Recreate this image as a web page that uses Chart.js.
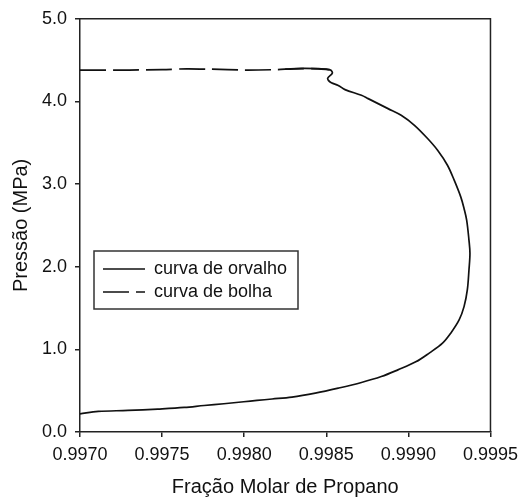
<!DOCTYPE html>
<html>
<head>
<meta charset="utf-8">
<script src="https://cdn.jsdelivr.net/npm/chart.js@4/dist/chart.umd.min.js"></script>
<style>
  html, body { margin: 0; padding: 0; background: #fff; }
  #wrap { width: 525px; height: 499px; }
</style>
</head>
<body>
<div id="wrap"><canvas id="envelope" width="525" height="499"></canvas></div>
<script>
// curva de orvalho: fração molar (x) e pressão em MPa (y)
const dewX = [0.997000, 0.997111, 0.997292, 0.997473, 0.997635, 0.997756, 0.997876, 0.997997,
  0.998078, 0.998170, 0.998291, 0.998433, 0.998573, 0.998714, 0.998835, 0.998936, 0.999045,
  0.999129, 0.999208, 0.999258, 0.999309, 0.999339, 0.999359, 0.999369, 0.999375, 0.999369,
  0.999355, 0.999339, 0.999319, 0.999279, 0.999238, 0.999178, 0.999117, 0.999037, 0.998956,
  0.998876, 0.998755, 0.998714, 0.998614, 0.998573, 0.998531, 0.998513, 0.998509, 0.998537,
  0.998523, 0.998452, 0.998350, 0.998250];
const dewP = [0.22, 0.249, 0.261, 0.278, 0.297, 0.321, 0.342, 0.366,
  0.382, 0.399, 0.423, 0.471, 0.531, 0.599, 0.671, 0.752, 0.849,
  0.958, 1.075, 1.196, 1.356, 1.517, 1.719, 1.961, 2.162, 2.322,
  2.564, 2.705, 2.845, 3.047, 3.228, 3.409, 3.551, 3.711, 3.832,
  3.913, 4.034, 4.074, 4.143, 4.194, 4.225, 4.255, 4.283, 4.343,
  4.382, 4.396, 4.40, 4.392];

// curva de bolha
const bubbleX = [0.99700, 0.99730, 0.99750, 0.99765, 0.99780, 0.99800, 0.99820, 0.99830,
  0.99845, 0.99852];
const bubbleP = [4.38, 4.38, 4.385, 4.395, 4.39, 4.38, 4.385, 4.395, 4.395, 4.384];

const xTicks = [0.9970, 0.9975, 0.9980, 0.9985, 0.9990, 0.9995];
const yTicks = [0.0, 1.0, 2.0, 3.0, 4.0, 5.0];

const seriesNames = ['curva de orvalho', 'curva de bolha'];

function toPoints(xs, ys) {
  return xs.map((x, i) => ({ x: x, y: ys[i] }));
}

const axisColor = '#222';
const tickFont = { family: 'Liberation Sans, Arial, sans-serif', size: 18 };
const titleFont = { family: 'Liberation Sans, Arial, sans-serif', size: 20 };

// frame on top/right and the legend box inside the plot
const framePlugin = {
  id: 'framePlugin',
  afterDraw(chart) {
    const ctx = chart.ctx;
    const a = chart.chartArea;
    ctx.save();
    ctx.strokeStyle = axisColor;
    ctx.lineWidth = 1.5;
    ctx.beginPath();
    ctx.moveTo(a.left, a.top);
    ctx.lineTo(a.right, a.top);
    ctx.lineTo(a.right, a.bottom);
    ctx.stroke();

    // legend
    const bx = 94, by = 251, bw = 204, bh = 58;
    ctx.fillStyle = '#fff';
    ctx.fillRect(bx, by, bw, bh);
    ctx.lineWidth = 1.5;
    ctx.strokeStyle = '#333';
    ctx.strokeRect(bx, by, bw, bh);
    ctx.font = '18px "Liberation Sans", Arial, sans-serif';
    ctx.textBaseline = 'middle';
    ctx.fillStyle = '#111';
    chart.data.datasets.forEach((ds, i) => {
      const yy = by + 18 + i * 23;
      ctx.strokeStyle = ds.borderColor;
      ctx.lineWidth = ds.borderWidth;
      ctx.setLineDash(ds.borderDash || []);
      ctx.beginPath();
      ctx.moveTo(bx + 9, yy);
      ctx.lineTo(bx + 51, yy);
      ctx.stroke();
      ctx.setLineDash([]);
      ctx.fillText(ds.label, bx + 60, yy);
    });
    ctx.restore();
  }
};

new Chart(document.getElementById('envelope').getContext('2d'), {
  type: 'scatter',
  data: {
    datasets: [
      {
        label: seriesNames[0],
        data: toPoints(dewX, dewP),
        showLine: true,
        borderColor: '#111',
        borderWidth: 1.7,
        pointRadius: 0,
        tension: 0.35
      },
      {
        label: seriesNames[1],
        data: toPoints(bubbleX, bubbleP),
        showLine: true,
        borderColor: '#111',
        borderWidth: 1.7,
        borderDash: [26, 7],
        pointRadius: 0,
        tension: 0.3
      }
    ]
  },
  options: {
    responsive: false,
    animation: false,
    layout: { padding: { left: 0, right: 32, top: 18, bottom: 0 } },
    plugins: {
      legend: { display: false },
      tooltip: { enabled: false }
    },
    scales: {
      x: {
        type: 'linear',
        min: xTicks[0],
        max: xTicks[xTicks.length - 1],
        afterBuildTicks: (scale) => { scale.ticks = xTicks.map(v => ({ value: v })); },
        afterFit: (scale) => { scale.height = 67; },
        ticks: {
          color: '#111',
          font: tickFont,
          padding: 7,
          maxRotation: 0,
          callback: (v) => Number(v).toFixed(4)
        },
        grid: {
          drawOnChartArea: false,
          drawTicks: true,
          tickLength: 5,
          color: axisColor,
          lineWidth: 1.5
        },
        border: { display: true, color: axisColor, width: 1.5 },
        title: {
          display: true,
          text: 'Fração Molar de Propano',
          color: '#111',
          font: titleFont,
          padding: { top: 0, bottom: 0 }
        }
      },
      y: {
        type: 'linear',
        min: yTicks[0],
        max: yTicks[yTicks.length - 1],
        afterBuildTicks: (scale) => { scale.ticks = yTicks.map(v => ({ value: v })); },
        afterFit: (scale) => { scale.width = 80; },
        ticks: {
          color: '#111',
          font: tickFont,
          padding: 8,
          callback: (v) => Number(v).toFixed(1)
        },
        grid: {
          drawOnChartArea: false,
          drawTicks: true,
          tickLength: 5,
          color: axisColor,
          lineWidth: 1.5
        },
        border: { display: true, color: axisColor, width: 1.5 },
        title: {
          display: true,
          text: 'Pressão (MPa)',
          color: '#111',
          font: titleFont,
          padding: { top: 9, bottom: 0 }
        }
      }
    }
  },
  plugins: [framePlugin]
});
</script>
</body>
</html>
